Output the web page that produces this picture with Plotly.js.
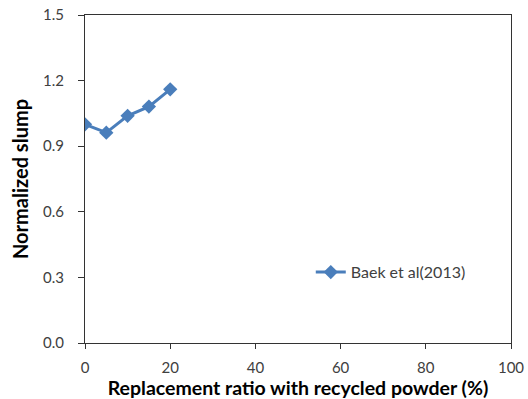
<!DOCTYPE html>
<html><head><meta charset="utf-8">
<script src="https://cdn.plot.ly/plotly-3.0.1.min.js"></script>
<style>html,body{margin:0;padding:0;background:#fff}#c{width:528px;height:399px}</style>
</head><body><div id="c"></div>
<script>
const replacementRatio = [0, 5, 10, 15, 20];
const normalizedSlump = [1.0, 0.962, 1.039, 1.081, 1.16];
const seriesName = 'Baek et al(2013)';
const xTicks = [0, 20, 40, 60, 80, 100];
const yTicks = [0, 0.3, 0.6, 0.9, 1.2, 1.5];
const yTickText = ['0.0', '0.3', '0.6', '0.9', '1.2', '1.5'];

const font = 'Lato, "Noto Sans", sans-serif';
Plotly.newPlot('c', [{
  x: replacementRatio, y: normalizedSlump, name: seriesName,
  type: 'scatter', mode: 'lines+markers',
  line: {color: '#4a7ebb', width: 3},
  marker: {symbol: 'diamond', size: 11, color: '#4a7ebb'}
}], {
  width: 528, height: 399,
  margin: {l: 85, r: 17, t: 15, b: 56},
  paper_bgcolor: '#fff', plot_bgcolor: '#fff',
  showlegend: true,
  legend: {x: 0.53, xanchor: 'left', y: 0.216, yanchor: 'middle', bgcolor: 'rgba(0,0,0,0)',
    font: {family: font, size: 16, color: '#404040'}},
  xaxis: {range: [0, 100], tickvals: xTicks, showgrid: false, zeroline: false,
    showline: true, linecolor: '#333', linewidth: 1, mirror: true,
    ticks: 'outside', ticklen: 5, tickcolor: '#333', ticklabelstandoff: 6,
    tickfont: {family: font, size: 15, color: '#404040'},
    title: {text: '<b>Replacement ratio with recycled powder (%)</b>', standoff: 4,
      font: {family: font, size: 19.5, color: '#000'}}},
  yaxis: {range: [0, 1.5], tickvals: yTicks, ticktext: yTickText, showgrid: false, zeroline: false,
    showline: true, linecolor: '#333', linewidth: 1, mirror: true,
    ticks: 'outside', ticklen: 6, tickcolor: '#333', ticklabelstandoff: 11,
    tickfont: {family: font, size: 15, color: '#404040'},
    title: {text: '<b>Normalized slump</b>', standoff: 9,
      font: {family: font, size: 20, color: '#000'}}}
}, {displayModeBar: false, staticPlot: true});
</script></body></html>
